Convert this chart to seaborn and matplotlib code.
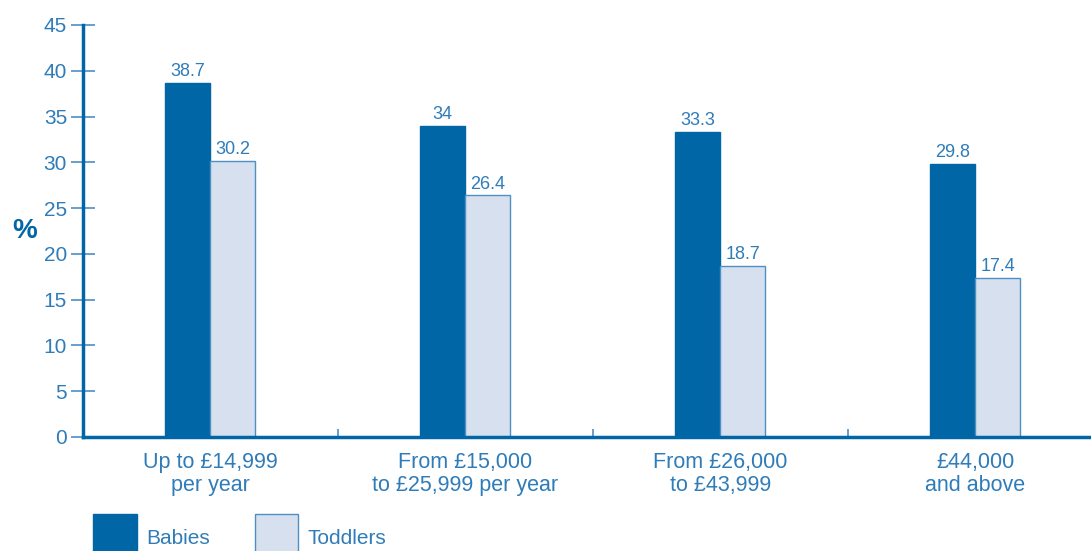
"""
Grouped bar chart: babies vs toddlers by household income band.
"""

import pandas as pd
import matplotlib
matplotlib.use("Agg")
import matplotlib.pyplot as plt
from matplotlib.patches import Patch
import seaborn as sns

# Data
income_bands = [
    "Up to £14,999\nper year",
    "From £15,000\nto £25,999 per year",
    "From £26,000\nto £43,999",
    "£44,000\nand above",
]
babies = [38.7, 34, 33.3, 29.8]
toddlers = [30.2, 26.4, 18.7, 17.4]
groups = ["Babies", "Toddlers"]

# Colours
DARK = "#0066a6"
LIGHT = "#d6e0ee"
LIGHT_EDGE = "#4f8fc4"
TEXT = "#2f7cb9"

sns.set_theme(style="white")
plt.rcParams["font.family"] = ["Liberation Sans", "DejaVu Sans"]

df = pd.DataFrame({
    "band": income_bands * 2,
    "group": [groups[0]] * len(babies) + [groups[1]] * len(toddlers),
    "value": babies + toddlers,
})

fig = plt.figure(figsize=(10.91, 5.51), dpi=100)
ax = fig.add_axes([83 / 1091, 114 / 551, 1 - 83 / 1091, 412 / 551])

sns.barplot(data=df, x="band", y="value", hue="group", order=income_bands,
            hue_order=groups, palette=[DARK, LIGHT], width=90 / 255,
            saturation=1, legend=False, ax=ax)

# bar edges + value labels
for container, edge in zip(ax.containers, [DARK, LIGHT_EDGE]):
    for bar in container:
        bar.set_edgecolor(edge)
        bar.set_linewidth(1.0)
    ax.bar_label(container, labels=[f"{v:g}" for v in container.datavalues],
                 padding=2, fontsize=13, color=TEXT)

ax.set_xlim(-0.5, 3.5 - 11.5 / 255)
ax.set_ylim(0, 45)
ax.set_yticks(range(0, 46, 5))

for s in ["top", "right"]:
    ax.spines[s].set_visible(False)
for s in ["left", "bottom"]:
    ax.spines[s].set_color(DARK)
    ax.spines[s].set_linewidth(2.5)

ax.tick_params(axis="y", direction="inout", length=17, width=1.2,
               color=LIGHT_EDGE, labelsize=15, labelcolor=TEXT, pad=3, left=True)
ax.tick_params(axis="x", which="major", length=0, labelsize=15.5,
               labelcolor=TEXT, pad=11)
ax.set_xticks([0.5, 1.5, 2.5], minor=True)
ax.tick_params(axis="x", which="minor", direction="in", length=6, width=1.2,
               color=LIGHT_EDGE, bottom=True)
for lbl in ax.get_xticklabels():
    lbl.set_linespacing(1.1)

ax.set_xlabel("")
ax.set_ylabel("%", rotation=0, fontsize=20, fontweight="bold", color=DARK,
              va="center", ha="center")
ax.yaxis.set_label_coords(-0.058, 0.5)

# legend sits at the bottom, swatches run off the figure edge
handles = [Patch(facecolor=DARK, edgecolor=DARK),
           Patch(facecolor=LIGHT, edgecolor=LIGHT_EDGE)]
leg = fig.legend(handles, groups, loc="upper left",
                 bbox_to_anchor=(93 / 1091, 37 / 551), ncol=2, frameon=False,
                 fontsize=15, handlelength=2.1, handleheight=3.1,
                 handletextpad=0.45, columnspacing=2.15, borderpad=0,
                 borderaxespad=0)
for t in leg.get_texts():
    t.set_color(TEXT)

fig.savefig("out.png", dpi=100)
plt.close(fig)
